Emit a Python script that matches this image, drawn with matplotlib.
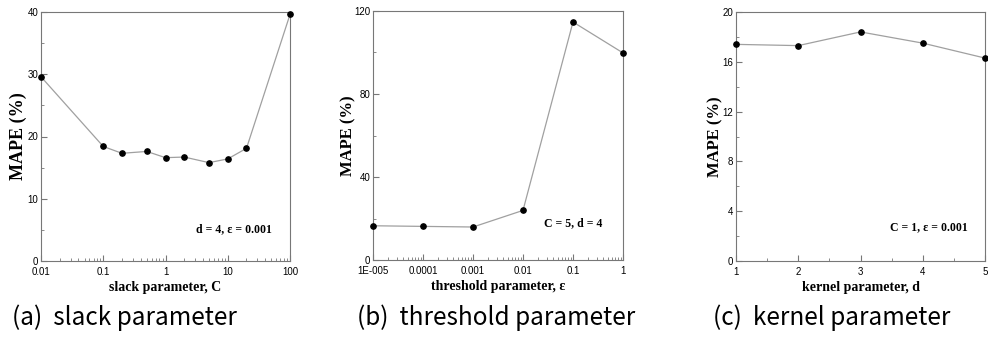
import matplotlib
matplotlib.use("Agg")
import matplotlib.pyplot as plt
from matplotlib.ticker import FixedLocator, FixedFormatter, LogLocator, MultipleLocator, NullFormatter

# --------------------------------------------------------------------------
# Data
# --------------------------------------------------------------------------
slack_c = [0.01, 0.1, 0.2, 0.5, 1, 2, 5, 10, 20, 100]
slack_mape = [29.6, 18.4, 17.3, 17.6, 16.6, 16.7, 15.8, 16.4, 18.1, 39.6]
slack_ticks = [0.01, 0.1, 1, 10, 100]
slack_ticklabels = ["0.01", "0.1", "1", "10", "100"]

eps = [1e-5, 1e-4, 1e-3, 1e-2, 0.1, 1]
eps_mape = [16.5, 16.2, 15.9, 23.9, 114.7, 99.8]
eps_ticks = [1e-5, 1e-4, 1e-3, 1e-2, 0.1, 1]
eps_ticklabels = ["1E-005", "0.0001", "0.001", "0.01", "0.1", "1"]

kernel_d = [1, 2, 3, 4, 5]
kernel_mape = [17.4, 17.3, 18.4, 17.5, 16.3]

xlabels = ["slack parameter, C", "threshold parameter, \u03b5", "kernel parameter, d"]
notes = ["d = 4, \u03b5 = 0.001", "C = 5, d = 4", "C = 1, \u03b5 = 0.001"]
captions = ["(a)  slack parameter", "(b)  threshold parameter", "(c)  kernel parameter"]

W, H = 988, 337
fig = plt.figure(figsize=(W / 100, H / 100), dpi=100)


def px_axes(l, t, r, b):
    return fig.add_axes([l / W, 1 - b / H, (r - l) / W, (b - t) / H])


ax_a = px_axes(41, 12, 290, 261)
ax_b = px_axes(373, 11, 623, 260)
ax_c = px_axes(736, 12, 985, 261)

serif = ["Liberation Serif", "DejaVu Serif"]
sans = ["Liberation Sans", "DejaVu Sans"]


def style(ax):
    for s in ax.spines.values():
        s.set_color("#777777")
        s.set_linewidth(0.8)
    ax.tick_params(which="both", direction="in", top=False, right=False,
                   color="#777777", labelsize=7)
    ax.tick_params(axis="x", pad=4.5)
    ax.tick_params(axis="y", pad=2)
    ax.tick_params(which="major", length=4)
    ax.tick_params(which="minor", length=2.5)
    for lab in ax.get_xticklabels() + ax.get_yticklabels():
        lab.set_family(sans)


def draw(ax, x, y):
    ax.plot(x, y, color="#a0a0a0", linewidth=0.9, zorder=2, clip_on=False)
    ax.plot(x, y, "o", color="black", markersize=3.8, zorder=3, clip_on=False)


# (a)
draw(ax_a, slack_c, slack_mape)
ax_a.set_xscale("log")
ax_a.set_xlim(0.01, 100)
ax_a.set_ylim(0, 40)
ax_a.xaxis.set_major_locator(FixedLocator(slack_ticks))
ax_a.xaxis.set_major_formatter(FixedFormatter(slack_ticklabels))
ax_a.xaxis.set_minor_locator(LogLocator(base=10, subs=range(2, 10)))
ax_a.xaxis.set_minor_formatter(NullFormatter())
ax_a.yaxis.set_major_locator(MultipleLocator(10))
ax_a.yaxis.set_minor_locator(MultipleLocator(5))

# (b)
draw(ax_b, eps, eps_mape)
ax_b.set_xscale("log")
ax_b.set_xlim(1e-5, 1)
ax_b.set_ylim(0, 120)
ax_b.xaxis.set_major_locator(FixedLocator(eps_ticks))
ax_b.xaxis.set_major_formatter(FixedFormatter(eps_ticklabels))
ax_b.xaxis.set_minor_locator(LogLocator(base=10, subs=range(2, 10)))
ax_b.xaxis.set_minor_formatter(NullFormatter())
ax_b.yaxis.set_major_locator(MultipleLocator(40))
ax_b.yaxis.set_minor_locator(MultipleLocator(20))

# (c)
draw(ax_c, kernel_d, kernel_mape)
ax_c.set_xlim(1, 5)
ax_c.set_ylim(0, 20)
ax_c.xaxis.set_major_locator(MultipleLocator(1))
ax_c.xaxis.set_minor_locator(MultipleLocator(0.5))
ax_c.yaxis.set_major_locator(MultipleLocator(4))
ax_c.yaxis.set_minor_locator(MultipleLocator(2))

# note anchors (pixel centre), y-label sizes/pads, caption centres
note_px = [(234, 229), (573, 223), (929, 227)]
ylabel_size = [13, 12, 12]
ylabel_pad = [0, -2, -1]
caption_x = [124, 496, 832]

for ax, xl, note, (nx, ny), ys, yp, cap, cx in zip(
        [ax_a, ax_b, ax_c], xlabels, notes, note_px, ylabel_size, ylabel_pad,
        captions, caption_x):
    style(ax)
    ax.set_xlabel(xl, family=serif, fontweight="bold", fontsize=10, labelpad=3)
    ax.set_ylabel("MAPE (%)", family=serif, fontweight="bold", fontsize=ys, labelpad=yp)
    fig.text(nx / W, 1 - ny / H, note, ha="center", va="center",
             family=serif, fontweight="bold", fontsize=8.5)
    fig.text(cx / W, 1 - 318 / H, cap, ha="center", va="center",
             family=["Noto Sans CJK KR", "DejaVu Sans"], fontsize=17.5)

fig.savefig("out.png", dpi=100)
